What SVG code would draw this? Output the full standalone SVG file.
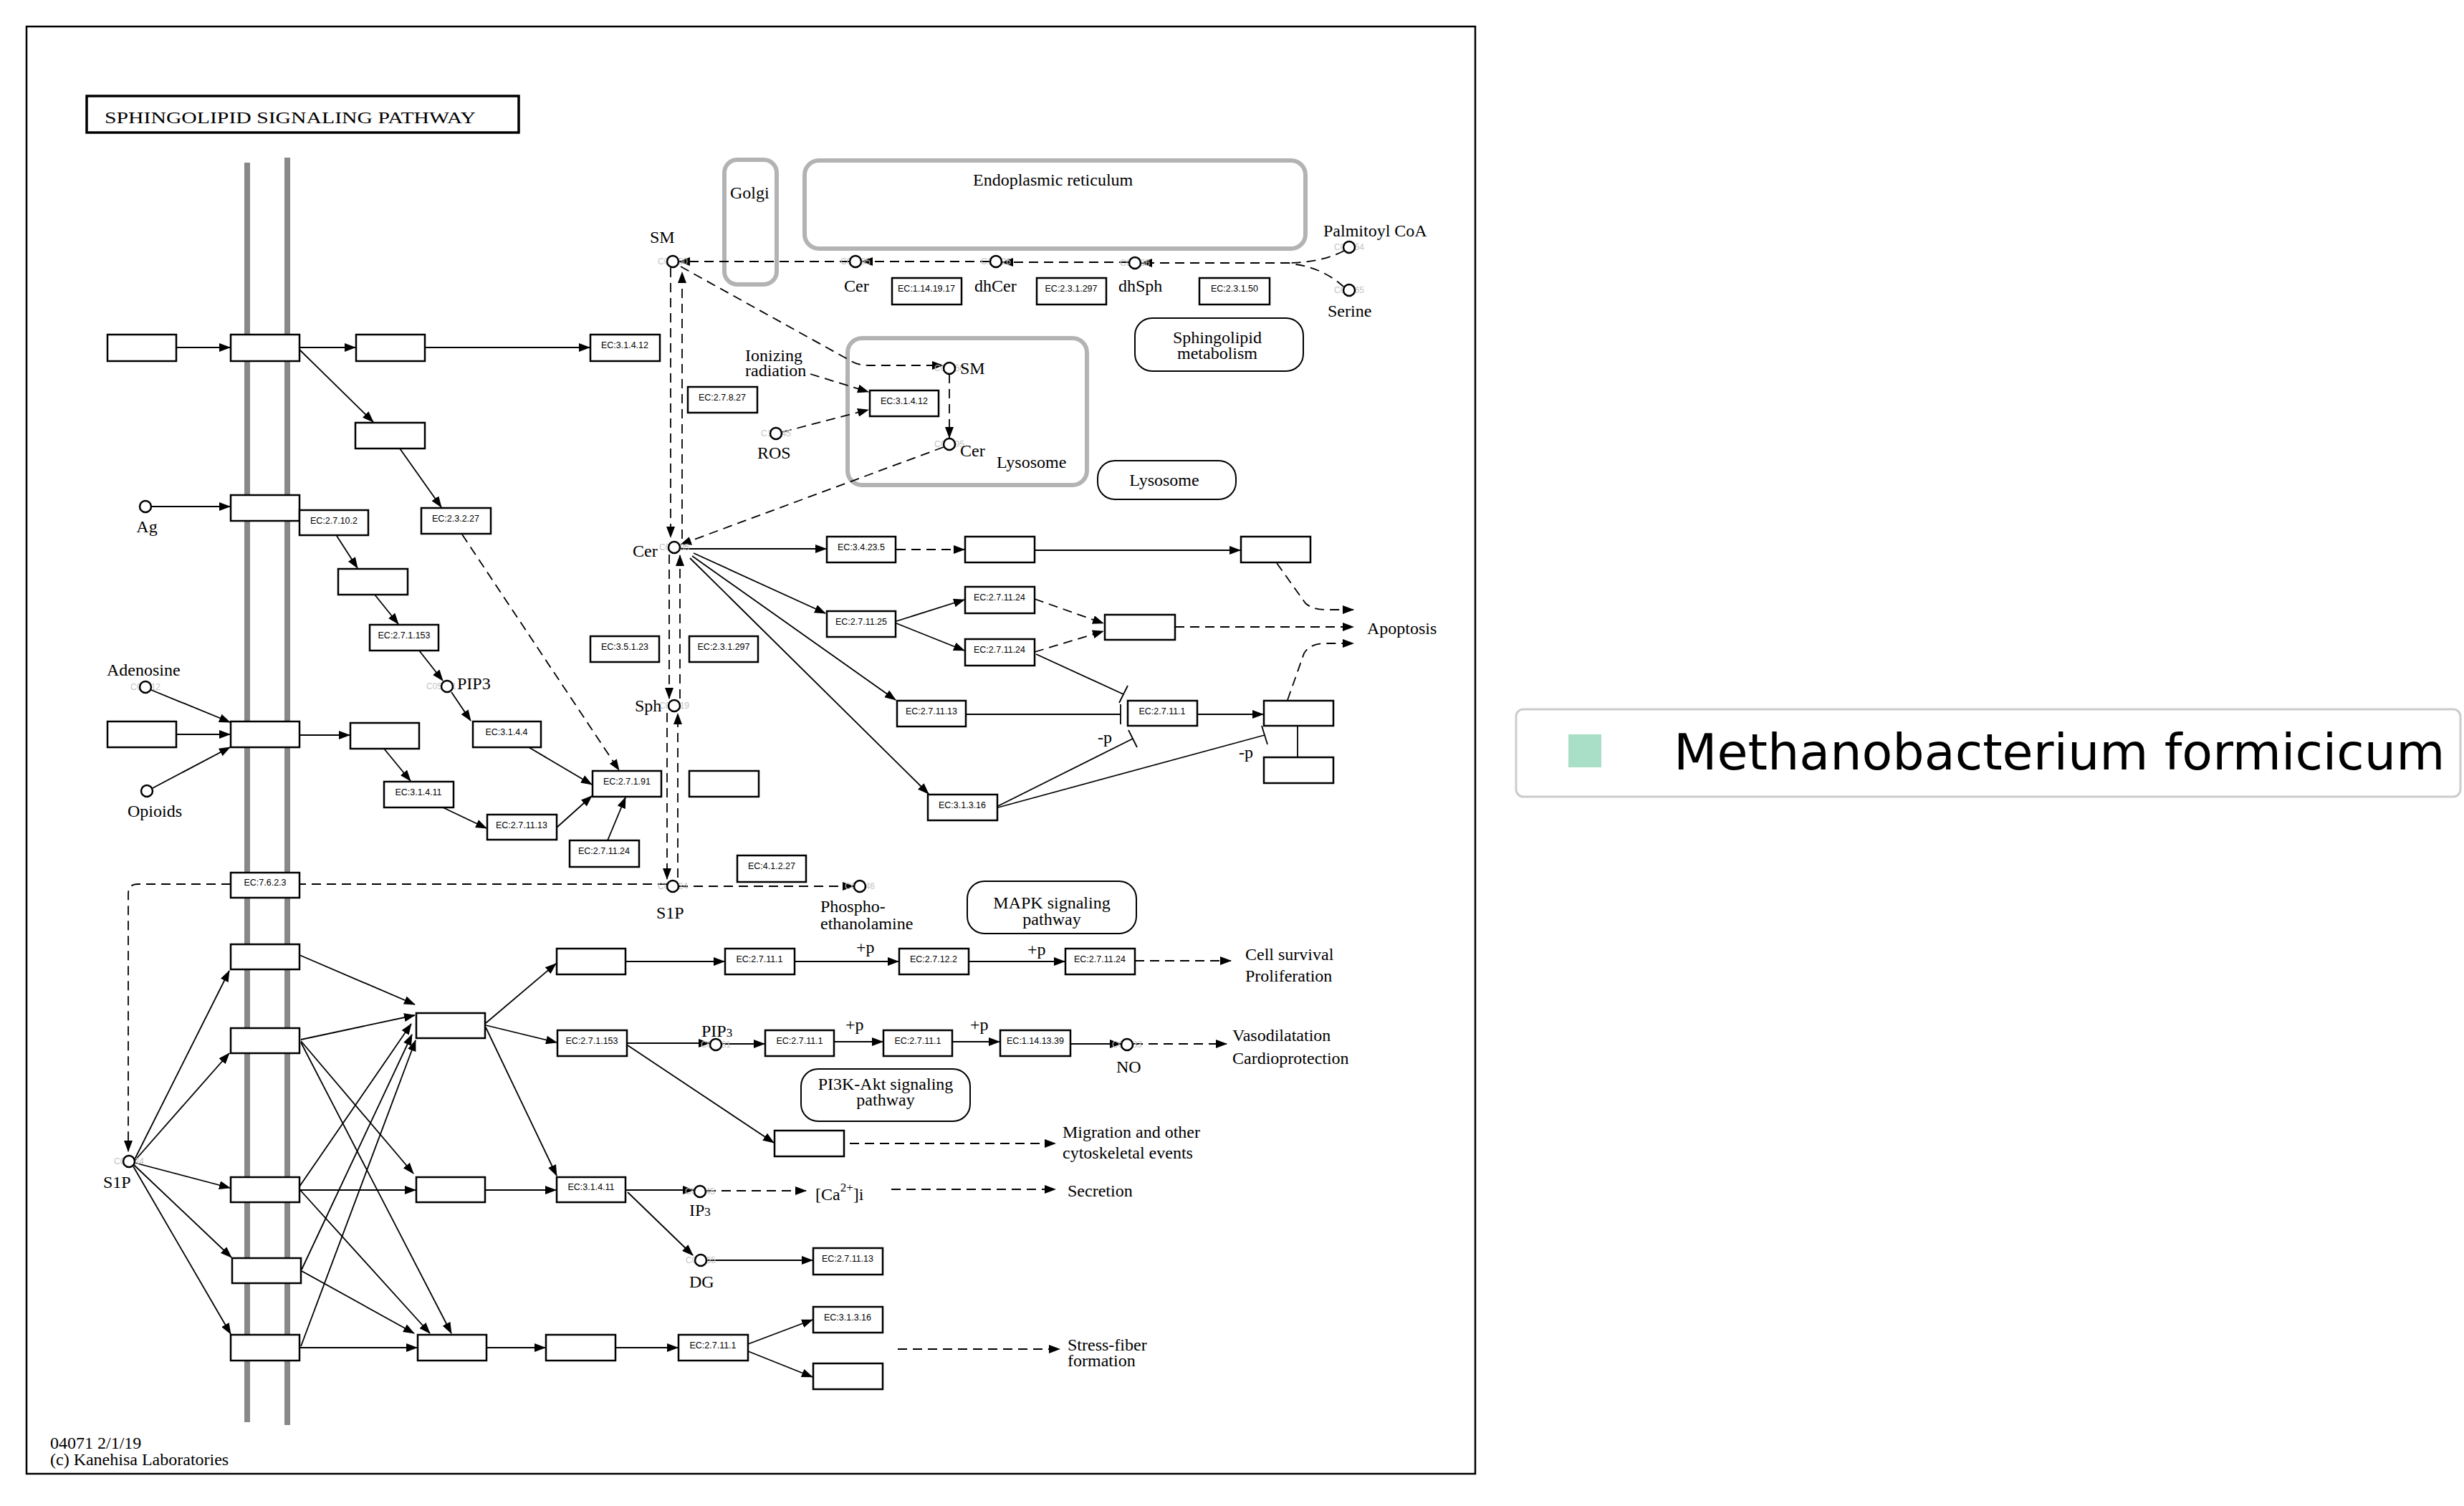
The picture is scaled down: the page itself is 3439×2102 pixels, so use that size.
<svg xmlns="http://www.w3.org/2000/svg" width="3439" height="2102" viewBox="0 0 3439 2102">
<style>
.b{fill:#fff;stroke:#000;stroke-width:2.5}
.ec{font-family:"Liberation Sans",Arial,sans-serif;font-size:12.5px;text-anchor:middle;fill:#000}
.t{font-family:"Liberation Serif","Times New Roman",serif;font-size:24px;fill:#000}
.m{text-anchor:middle}
.c{fill:#fff;stroke:#000;stroke-width:2.5}
.cid{font-family:"Liberation Sans",Arial,sans-serif;font-size:12px;fill:#c4c4c4;text-anchor:middle}
.l{stroke:#000;stroke-width:1.8;fill:none}
.a{marker-end:url(#ah)}
.d{stroke-dasharray:13 8}
.cmp{fill:none;stroke:#b3b3b3;stroke-width:6}
.pw{fill:#fff;stroke:#000;stroke-width:2}
.mem{stroke:#888;stroke-width:8}
</style>
<defs>
<marker id="ah" markerUnits="userSpaceOnUse" markerWidth="16" markerHeight="12" refX="15" refY="6" orient="auto"><path d="M0,0 L16,6 L0,12 z" fill="#000"/></marker>
</defs>
<rect x="0" y="0" width="3439" height="2102" fill="#fff"/>
<rect x="37" y="37" width="2022" height="2020" fill="none" stroke="#000" stroke-width="2.5"/>
<g id="title"><rect x="121" y="134" width="603" height="51" fill="none" stroke="#000" stroke-width="3.5"/><text class="t" x="146" y="172" font-size="28" textLength="518" lengthAdjust="spacingAndGlyphs">SPHINGOLIPID  SIGNALING  PATHWAY</text></g>
<g id="membrane"><line class="mem" x1="345" y1="227" x2="345" y2="1985"/><line class="mem" x1="401" y1="220" x2="401" y2="1989"/></g>
<g id="compartments">
<g id="golgi"><rect class="cmp" x="1011" y="223" width="73" height="174" rx="18"/><text class="t" x="1019" y="277">Golgi</text></g>
<g id="er"><rect class="cmp" x="1123" y="224" width="699" height="123" rx="20"/><text class="t" x="1358" y="259">Endoplasmic reticulum</text></g>
<g id="lysosome-comp"><rect class="cmp" x="1183" y="472" width="334" height="205" rx="20"/><text class="t" x="1391" y="653">Lysosome</text></g>
</g>
<g id="connectors">
<path class="l a" d="M246,485 H321"/>
<path class="l a" d="M418,485 H496"/>
<path class="l a" d="M593,485 H823"/>
<path class="l a" d="M418,488 L521,589"/>
<path class="l a" d="M558,626 L616,708"/>
<path class="l a" d="M211,707 H321"/>
<path class="l a" d="M470,748 L499,793"/>
<path class="l a" d="M523,830 L556,871"/>
<path class="l a" d="M585,908 L618,950"/>
<path class="l a" d="M630,966 L657,1006"/>
<path class="l a" d="M211,963 L321,1008"/>
<path class="l a" d="M246,1025 H321"/>
<path class="l a" d="M213,1100 L321,1043"/>
<path class="l a" d="M418,1026 H488"/>
<path class="l a" d="M536,1045 L573,1090"/>
<path class="l a" d="M618,1127 L679,1156"/>
<path class="l a" d="M738,1043 L826,1095"/>
<path class="l a d" d="M645,746 L864,1075"/>
<path class="l a" d="M777,1155 L826,1111"/>
<path class="l a" d="M848,1173 L873,1113"/>
<path class="l a d" d="M931,1234 H192 Q179,1234 179,1248 V1607"/>
<path class="l a" d="M188,1618 L320,1355"/>
<path class="l a" d="M188,1620 L320,1470"/>
<path class="l a" d="M188,1623 L321,1658"/>
<path class="l a" d="M187,1626 L323,1755"/>
<path class="l a" d="M186,1628 L322,1862"/>
<path class="l a" d="M418,1333 L579,1402"/>
<path class="l a" d="M420,1451 L579,1417"/>
<path class="l a" d="M420,1453 L577,1638"/>
<path class="l a" d="M420,1455 L630,1861"/>
<path class="l a" d="M418,1661 H580"/>
<path class="l a" d="M418,1656 L574,1429"/>
<path class="l a" d="M418,1660 L600,1861"/>
<path class="l a" d="M421,1772 L575,1444"/>
<path class="l a" d="M421,1774 L578,1861"/>
<path class="l a" d="M418,1881 H582"/>
<path class="l a" d="M420,1879 L580,1452"/>
<path class="l a" d="M678,1428 L776,1345"/>
<path class="l a" d="M678,1431 L777,1455"/>
<path class="l a" d="M678,1434 L777,1641"/>
<path class="l a" d="M678,1661 H776"/>
<path class="l a" d="M680,1881 H761"/>
<path class="l a" d="M859,1881 H946"/>
<path class="l a" d="M1044,1876 L1134,1842"/>
<path class="l a" d="M1044,1886 L1134,1922"/>
<path class="l a d" d="M1253,1883 H1479"/>
<path class="l a" d="M874,1342 H1011"/>
<path class="l a" d="M1109,1342 H1254"/>
<path class="l a" d="M1352,1342 H1486"/>
<path class="l a d" d="M1584,1341 H1718"/>
<path class="l a" d="M875,1456 H990"/>
<path class="l a" d="M1007,1457 H1067"/>
<path class="l a" d="M1165,1454 H1232"/>
<path class="l a" d="M1330,1454 H1395"/>
<path class="l a" d="M1494,1457 H1564"/>
<path class="l a d" d="M1582,1457 H1712"/>
<path class="l a" d="M876,1459 L1080,1595"/>
<path class="l a d" d="M1186,1596 H1473"/>
<path class="l a" d="M874,1661 H968"/>
<path class="l a d" d="M986,1662 H1125"/>
<path class="l a d" d="M1244,1660 H1473"/>
<path class="l a" d="M876,1664 L967,1752"/>
<path class="l a" d="M987,1759 H1134"/>
<path class="l a d" d="M1185,365 H948"/>
<path class="l a d" d="M1381,365 H1203"/>
<path class="l a d" d="M1575,366 H1399"/>
<path class="l d" d="M1876,350 Q1845,366 1800,367"/>
<path class="l d" d="M1876,401 Q1845,372 1800,368"/>
<path class="l a d" d="M1800,367 H1593"/>
<path class="l a d" d="M936,374 V750"/>
<path class="l a d" d="M952,752 V380"/>
<path class="l a d" d="M934,774 V975"/>
<path class="l a d" d="M949,975 V775"/>
<path class="l a d" d="M931,995 V1227"/>
<path class="l a d" d="M946,1225 V996"/>
<path class="l a d" d="M950,372 L1188,504 Q1198,510 1212,510 H1316"/>
<path class="l a d" d="M1131,522 L1212,547"/>
<path class="l a d" d="M1092,603 L1212,572"/>
<path class="l a d" d="M1325,522 V611"/>
<path class="l a d" d="M1317,624 L950,760"/>
<path class="l a" d="M950,766 H1153"/>
<path class="l a d" d="M1251,767 H1346"/>
<path class="l a" d="M1444,768 H1731"/>
<path class="l a d" d="M1782,786 L1822,842 Q1832,851 1850,851 H1889"/>
<path class="l a" d="M968,772 L1152,856"/>
<path class="l a" d="M966,776 L1250,977"/>
<path class="l a" d="M963,779 L1296,1108"/>
<path class="l a" d="M1251,867 L1346,837"/>
<path class="l a" d="M1251,870 L1346,908"/>
<path class="l a d" d="M1444,836 L1540,870"/>
<path class="l a d" d="M1444,910 L1540,881"/>
<path class="l a d" d="M1640,875 H1889"/>
<path class="l" d="M1446,913 L1568,969"/>
<path class="l" d="M1562,981 L1574,957" stroke-width="2.2"/>
<path class="l" d="M1348,997 H1564"/>
<path class="l" d="M1564,983 V1011" stroke-width="2.2"/>
<path class="l a" d="M1671,997 H1763"/>
<path class="l" d="M1811,1014 V1057"/>
<path class="l a d" d="M1797,977 L1820,912 Q1828,898 1850,898 H1889"/>
<path class="l" d="M1393,1125 L1581,1031"/>
<path class="l" d="M1575,1019 L1587,1043" stroke-width="2.2"/>
<path class="l" d="M1393,1127 L1765,1026"/>
<path class="l" d="M1761,1013 L1769,1039" stroke-width="2.2"/>
<path class="l a d" d="M947,1237 H1191"/>
</g>
<g id="nodes">
<g id="b1"><rect class="b" x="150" y="467" width="96" height="37"/></g>
<g id="b2"><rect class="b" x="322" y="467" width="96" height="37"/></g>
<g id="b3"><rect class="b" x="497" y="467" width="96" height="37"/></g>
<g id="ec1"><rect class="b" x="824" y="467" width="97" height="37"/><text class="ec" x="872" y="486">EC:3.1.4.12</text></g>
<g id="b4"><rect class="b" x="496" y="590" width="97" height="36"/></g>
<g id="ec2"><rect class="b" x="588" y="709" width="97" height="36"/><text class="ec" x="636" y="728">EC:2.3.2.27</text></g>
<g id="b5"><rect class="b" x="322" y="691" width="96" height="36"/></g>
<g id="ec3"><rect class="b" x="418" y="712" width="96" height="35"/><text class="ec" x="466" y="731">EC:2.7.10.2</text></g>
<g id="b6"><rect class="b" x="472" y="794" width="97" height="36"/></g>
<g id="ec4"><rect class="b" x="516" y="872" width="96" height="36"/><text class="ec" x="564" y="891">EC:2.7.1.153</text></g>
<g id="ec5"><rect class="b" x="660" y="1007" width="95" height="36"/><text class="ec" x="707" y="1026">EC:3.1.4.4</text></g>
<g id="b7"><rect class="b" x="150" y="1007" width="96" height="36"/></g>
<g id="b8"><rect class="b" x="322" y="1007" width="96" height="36"/></g>
<g id="b9"><rect class="b" x="489" y="1009" width="96" height="36"/></g>
<g id="ec6"><rect class="b" x="536" y="1091" width="97" height="36"/><text class="ec" x="584" y="1110">EC:3.1.4.11</text></g>
<g id="ec7"><rect class="b" x="680" y="1137" width="97" height="35"/><text class="ec" x="728" y="1156">EC:2.7.11.13</text></g>
<g id="ec8"><rect class="b" x="827" y="1076" width="96" height="36"/><text class="ec" x="875" y="1095">EC:2.7.1.91</text></g>
<g id="b10"><rect class="b" x="962" y="1076" width="97" height="36"/></g>
<g id="ec9"><rect class="b" x="795" y="1173" width="97" height="37"/><text class="ec" x="843" y="1192">EC:2.7.11.24</text></g>
<g id="ec10"><rect class="b" x="322" y="1218" width="96" height="35"/><text class="ec" x="370" y="1236">EC:7.6.2.3</text></g>
<g id="m1"><rect class="b" x="322" y="1318" width="96" height="35"/></g>
<g id="m2"><rect class="b" x="322" y="1435" width="96" height="35"/></g>
<g id="m3"><rect class="b" x="322" y="1643" width="96" height="35"/></g>
<g id="m4"><rect class="b" x="324" y="1756" width="96" height="35"/></g>
<g id="m5"><rect class="b" x="322" y="1863" width="96" height="36"/></g>
<g id="r1"><rect class="b" x="581" y="1414" width="96" height="35"/></g>
<g id="r2"><rect class="b" x="581" y="1643" width="96" height="35"/></g>
<g id="r3"><rect class="b" x="583" y="1863" width="96" height="36"/></g>
<g id="b11"><rect class="b" x="777" y="1324" width="96" height="36"/></g>
<g id="ec11"><rect class="b" x="1012" y="1324" width="97" height="36"/><text class="ec" x="1060" y="1343">EC:2.7.11.1</text></g>
<g id="ec12"><rect class="b" x="1255" y="1324" width="97" height="36"/><text class="ec" x="1303" y="1343">EC:2.7.12.2</text></g>
<g id="ec13"><rect class="b" x="1487" y="1324" width="97" height="36"/><text class="ec" x="1535" y="1343">EC:2.7.11.24</text></g>
<g id="ec14"><rect class="b" x="778" y="1438" width="97" height="36"/><text class="ec" x="826" y="1457">EC:2.7.1.153</text></g>
<g id="ec15"><rect class="b" x="1068" y="1438" width="96" height="36"/><text class="ec" x="1116" y="1457">EC:2.7.11.1</text></g>
<g id="ec16"><rect class="b" x="1233" y="1438" width="96" height="36"/><text class="ec" x="1281" y="1457">EC:2.7.11.1</text></g>
<g id="ec17"><rect class="b" x="1396" y="1438" width="98" height="36"/><text class="ec" x="1445" y="1457">EC:1.14.13.39</text></g>
<g id="b12"><rect class="b" x="1081" y="1578" width="97" height="36"/></g>
<g id="ec18"><rect class="b" x="777" y="1643" width="96" height="35"/><text class="ec" x="825" y="1661">EC:3.1.4.11</text></g>
<g id="ec19"><rect class="b" x="1135" y="1742" width="97" height="37"/><text class="ec" x="1183" y="1761">EC:2.7.11.13</text></g>
<g id="b13"><rect class="b" x="762" y="1863" width="97" height="36"/></g>
<g id="ec20"><rect class="b" x="947" y="1863" width="97" height="36"/><text class="ec" x="995" y="1882">EC:2.7.11.1</text></g>
<g id="ec21"><rect class="b" x="1135" y="1824" width="97" height="36"/><text class="ec" x="1183" y="1843">EC:3.1.3.16</text></g>
<g id="b14"><rect class="b" x="1135" y="1903" width="97" height="36"/></g>
<g id="ec22"><rect class="b" x="1245" y="388" width="97" height="37"/><text class="ec" x="1293" y="407">EC:1.14.19.17</text></g>
<g id="ec23"><rect class="b" x="1447" y="388" width="97" height="37"/><text class="ec" x="1495" y="407">EC:2.3.1.297</text></g>
<g id="ec24"><rect class="b" x="1674" y="388" width="98" height="37"/><text class="ec" x="1723" y="407">EC:2.3.1.50</text></g>
<g id="ec25"><rect class="b" x="960" y="540" width="97" height="36"/><text class="ec" x="1008" y="559">EC:2.7.8.27</text></g>
<g id="ec26"><rect class="b" x="1214" y="545" width="96" height="36"/><text class="ec" x="1262" y="564">EC:3.1.4.12</text></g>
<g id="ec27"><rect class="b" x="1154" y="749" width="96" height="36"/><text class="ec" x="1202" y="768">EC:3.4.23.5</text></g>
<g id="b15"><rect class="b" x="1347" y="749" width="97" height="36"/></g>
<g id="b16"><rect class="b" x="1732" y="749" width="97" height="36"/></g>
<g id="ec28"><rect class="b" x="1347" y="819" width="97" height="37"/><text class="ec" x="1395" y="838">EC:2.7.11.24</text></g>
<g id="ec29"><rect class="b" x="1347" y="892" width="97" height="37"/><text class="ec" x="1395" y="911">EC:2.7.11.24</text></g>
<g id="ec30"><rect class="b" x="1154" y="853" width="96" height="36"/><text class="ec" x="1202" y="872">EC:2.7.11.25</text></g>
<g id="b17"><rect class="b" x="1542" y="858" width="98" height="35"/></g>
<g id="ec31"><rect class="b" x="824" y="888" width="96" height="36"/><text class="ec" x="872" y="907">EC:3.5.1.23</text></g>
<g id="ec32"><rect class="b" x="962" y="888" width="96" height="36"/><text class="ec" x="1010" y="907">EC:2.3.1.297</text></g>
<g id="ec33"><rect class="b" x="1252" y="978" width="96" height="36"/><text class="ec" x="1300" y="997">EC:2.7.11.13</text></g>
<g id="ec34"><rect class="b" x="1574" y="978" width="97" height="35"/><text class="ec" x="1622" y="997">EC:2.7.11.1</text></g>
<g id="b18"><rect class="b" x="1764" y="978" width="97" height="35"/></g>
<g id="b19"><rect class="b" x="1764" y="1057" width="97" height="36"/></g>
<g id="ec35"><rect class="b" x="1295" y="1109" width="97" height="36"/><text class="ec" x="1343" y="1128">EC:3.1.3.16</text></g>
<g id="ec36"><rect class="b" x="1029" y="1194" width="96" height="37"/><text class="ec" x="1077" y="1213">EC:4.1.2.27</text></g>
<g id="pw-sphingo"><rect class="pw" x="1584" y="444" width="235" height="74" rx="24"/><text class="t m" x="1699" y="479">Sphingolipid</text><text class="t m" x="1699" y="501">metabolism</text></g>
<g id="pw-lyso"><rect class="pw" x="1532" y="643" width="193" height="54" rx="24"/><text class="t m" x="1625" y="678">Lysosome</text></g>
<g id="pw-mapk"><rect class="pw" x="1350" y="1230" width="236" height="73" rx="24"/><text class="t m" x="1468" y="1268">MAPK signaling</text><text class="t m" x="1468" y="1291">pathway</text></g>
<g id="pw-pi3k"><rect class="pw" x="1118" y="1492" width="236" height="73" rx="24"/><text class="t m" x="1236" y="1521">PI3K-Akt signaling</text><text class="t m" x="1236" y="1543">pathway</text></g>
<g id="c-sm"><text class="cid" x="939" y="369">C00550</text><circle class="c" cx="939" cy="365" r="8"/><text class="t" x="907" y="339">SM</text></g>
<g id="c-cer-er"><text class="cid" x="1194" y="369">C00195</text><circle class="c" cx="1194" cy="365" r="8"/><text class="t" x="1178" y="407">Cer</text></g>
<g id="c-dhcer"><text class="cid" x="1390" y="369">C12126</text><circle class="c" cx="1390" cy="365" r="8"/><text class="t" x="1360" y="407">dhCer</text></g>
<g id="c-dhsph"><text class="cid" x="1584" y="371">C00836</text><circle class="c" cx="1584" cy="367" r="8"/><text class="t" x="1561" y="407">dhSph</text></g>
<g id="c-palcoa"><text class="cid" x="1883" y="349">C00154</text><circle class="c" cx="1883" cy="345" r="8"/><text class="t" x="1847" y="330">Palmitoyl CoA</text></g>
<g id="c-serine"><text class="cid" x="1883" y="409">C00065</text><circle class="c" cx="1883" cy="405" r="8"/><text class="t" x="1853" y="442">Serine</text></g>
<g id="c-sm-lys"><text class="cid" x="1325" y="518">C00550</text><circle class="c" cx="1325" cy="514" r="8"/><text class="t" x="1340" y="522">SM</text></g>
<g id="c-cer-lys"><text class="cid" x="1325" y="624">C00195</text><circle class="c" cx="1325" cy="620" r="8"/><text class="t" x="1340" y="637">Cer</text></g>
<g id="c-ros"><text class="cid" x="1083" y="609">C16845</text><circle class="c" cx="1083" cy="605" r="8"/><text class="t" x="1057" y="640">ROS</text></g>
<g id="t-ion"><text class="t" x="1040" y="504">Ionizing</text><text class="t" x="1040" y="525">radiation</text></g>
<g id="c-cer"><text class="cid" x="941" y="768">C00195</text><circle class="c" cx="941" cy="764" r="8"/><text class="t" x="883" y="777">Cer</text></g>
<g id="c-sph"><text class="cid" x="941" y="989">C00319</text><circle class="c" cx="941" cy="985" r="8"/><text class="t" x="886" y="993">Sph</text></g>
<g id="c-s1p"><text class="cid" x="939" y="1241">C06124</text><circle class="c" cx="939" cy="1237" r="8"/><text class="t" x="916" y="1282">S1P</text></g>
<g id="c-pea"><text class="cid" x="1200" y="1241">C00346</text><circle class="c" cx="1200" cy="1237" r="8"/><text class="t" x="1145" y="1273">Phospho-</text><text class="t" x="1145" y="1297">ethanolamine</text></g>
<g id="c-ag"><circle class="c" cx="203" cy="707" r="8"/><text class="t m" x="205" y="743">Ag</text></g>
<g id="c-adenosine"><text class="cid" x="203" y="963">C00212</text><circle class="c" cx="203" cy="959" r="8"/><text class="t" x="149" y="943">Adenosine</text></g>
<g id="c-opioids"><circle class="c" cx="205" cy="1104" r="8"/><text class="t" x="178" y="1140">Opioids</text></g>
<g id="c-pip3"><text class="cid" x="637" y="962" text-anchor="end" style="text-anchor:end">C05981</text><circle class="c" cx="624" cy="958" r="8"/><text class="t" x="638" y="962">PIP3</text></g>
<g id="c-s1p-out"><text class="cid" x="180" y="1625">C06124</text><circle class="c" cx="180" cy="1621" r="8"/><text class="t" x="144" y="1658">S1P</text></g>
<g id="c-pip3b"><text class="cid" x="999" y="1462">C05981</text><circle class="c" cx="999" cy="1458" r="8"/><text class="t" x="979" y="1447">PIP<tspan font-size="17">3</tspan></text></g>
<g id="c-no"><text class="cid" x="1573" y="1462">C00533</text><circle class="c" cx="1573" cy="1458" r="8"/><text class="t" x="1558" y="1497">NO</text></g>
<g id="c-ip3"><text class="cid" x="977" y="1667">C01245</text><circle class="c" cx="977" cy="1663" r="8"/><text class="t" x="962" y="1697">IP<tspan font-size="17">3</tspan></text></g>
<g id="c-dg"><text class="cid" x="978" y="1763">C00165</text><circle class="c" cx="978" cy="1759" r="8"/><text class="t" x="962" y="1797">DG</text></g>
<g id="t-ca"><text class="t" x="1138" y="1675">[Ca<tspan font-size="17" dy="-12">2+</tspan><tspan dy="12">]i</tspan></text></g>
</g>
<g id="labels">
<text class="t" x="1908" y="885">Apoptosis</text>
<text class="t" x="1532" y="1037">-p</text>
<text class="t" x="1729" y="1058">-p</text>
<text class="t" x="1195" y="1330">+p</text>
<text class="t" x="1434" y="1333">+p</text>
<text class="t" x="1180" y="1438">+p</text>
<text class="t" x="1354" y="1438">+p</text>
<text class="t" x="1738" y="1340">Cell survival</text>
<text class="t" x="1738" y="1370">Proliferation</text>
<text class="t" x="1720" y="1453">Vasodilatation</text>
<text class="t" x="1720" y="1485">Cardioprotection</text>
<text class="t" x="1483" y="1588">Migration and other</text>
<text class="t" x="1483" y="1617">cytoskeletal events</text>
<text class="t" x="1490" y="1670">Secretion</text>
<text class="t" x="1490" y="1885">Stress-fiber</text>
<text class="t" x="1490" y="1907">formation</text>
<text class="t" x="70" y="2022" font-size="22">04071 2/1/19</text>
<text class="t" x="70" y="2045" font-size="22">(c) Kanehisa Laboratories</text>
</g>
<g id="legend">
<rect x="2116" y="990" width="1318" height="122" rx="10" fill="#fff" stroke="#cccccc" stroke-width="3"/>
<rect x="2189" y="1025" width="46" height="46" fill="#a9dfc6"/>
<text x="2336" y="1074" font-family="'DejaVu Sans',sans-serif" font-size="70" fill="#000">Methanobacterium formicicum</text>
</g>
</svg>
